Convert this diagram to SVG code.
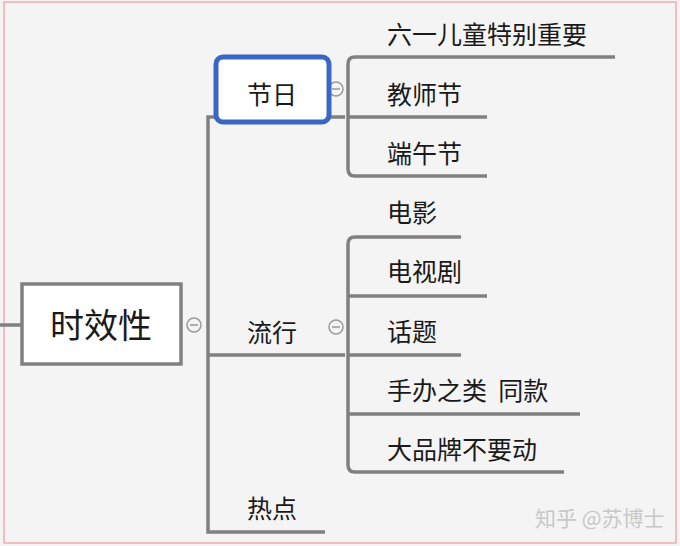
<svg xmlns="http://www.w3.org/2000/svg" width="680" height="546" viewBox="0 0 680 546">
<style>
.ln{fill:none;stroke:#808080;stroke-width:3.5}
.t{font-family:"Noto Sans CJK SC",sans-serif;font-size:25px;fill:#1a1a1a}
.c{fill:#f4f4f4;stroke:#999;stroke-width:1.5}
</style>
<rect width="680" height="546" fill="#f4f4f4"/>
<rect x="4" y="2" width="672" height="541" fill="none" stroke="#e88" stroke-width="1"/>
<g id="connectors">
<path class="ln" d="M0 325H22"/>
<path class="ln" d="M345 117H208V532H325M208 355H345"/>
<path class="ln" d="M615 57H355Q348 57 348 64V169Q348 176 355 176H487M348 117H487"/>
<path class="ln" d="M461 237H355Q348 237 348 244V465Q348 472 355 472H564M348 296H487M348 355H461M348 414H580"/>
<circle class="c" cx="194" cy="325" r="7"/><path d="M190 325h8" stroke="#999" stroke-width="1.5"/>
<circle class="c" cx="336" cy="89" r="7"/><path d="M332 89h8" stroke="#999" stroke-width="1.5"/>
<circle class="c" cx="336" cy="327" r="7"/><path d="M332 327h8" stroke="#999" stroke-width="1.5"/>
</g>
<g id="root"><rect x="22" y="284" width="159" height="80" fill="#fff" stroke="#808080" stroke-width="3.5"/>
<text class="t" x="101" y="338" text-anchor="middle" style="font-size:34px">时效性</text></g>
<g id="jieri"><rect x="216" y="57" width="113" height="65" rx="7" fill="#fff" stroke="#3a66c4" stroke-width="5"/>
<text class="t" x="272" y="104" text-anchor="middle">节日</text></g>
<g id="liuxing"><text class="t" x="272" y="342" text-anchor="middle">流行</text></g>
<g id="redian"><text class="t" x="247" y="518">热点</text></g>
<g id="n1"><text class="t" x="387" y="44">六一儿童特别重要</text></g>
<g id="n2"><text class="t" x="387" y="104">教师节</text></g>
<g id="n3"><text class="t" x="387" y="163">端午节</text></g>
<g id="n4"><text class="t" x="387" y="222">电影</text></g>
<g id="n5"><text class="t" x="387" y="281">电视剧</text></g>
<g id="n6"><text class="t" x="387" y="341">话题</text></g>
<g id="n7"><text class="t" x="387" y="400" xml:space="preserve">手办之类  同款</text></g>
<g id="n8"><text class="t" x="387" y="459">大品牌不要动</text></g>
<text x="535" y="526" style="font-family:'Noto Sans CJK SC',sans-serif;font-size:21px;fill:#c8c8c8">知乎 @苏博士</text>
</svg>
